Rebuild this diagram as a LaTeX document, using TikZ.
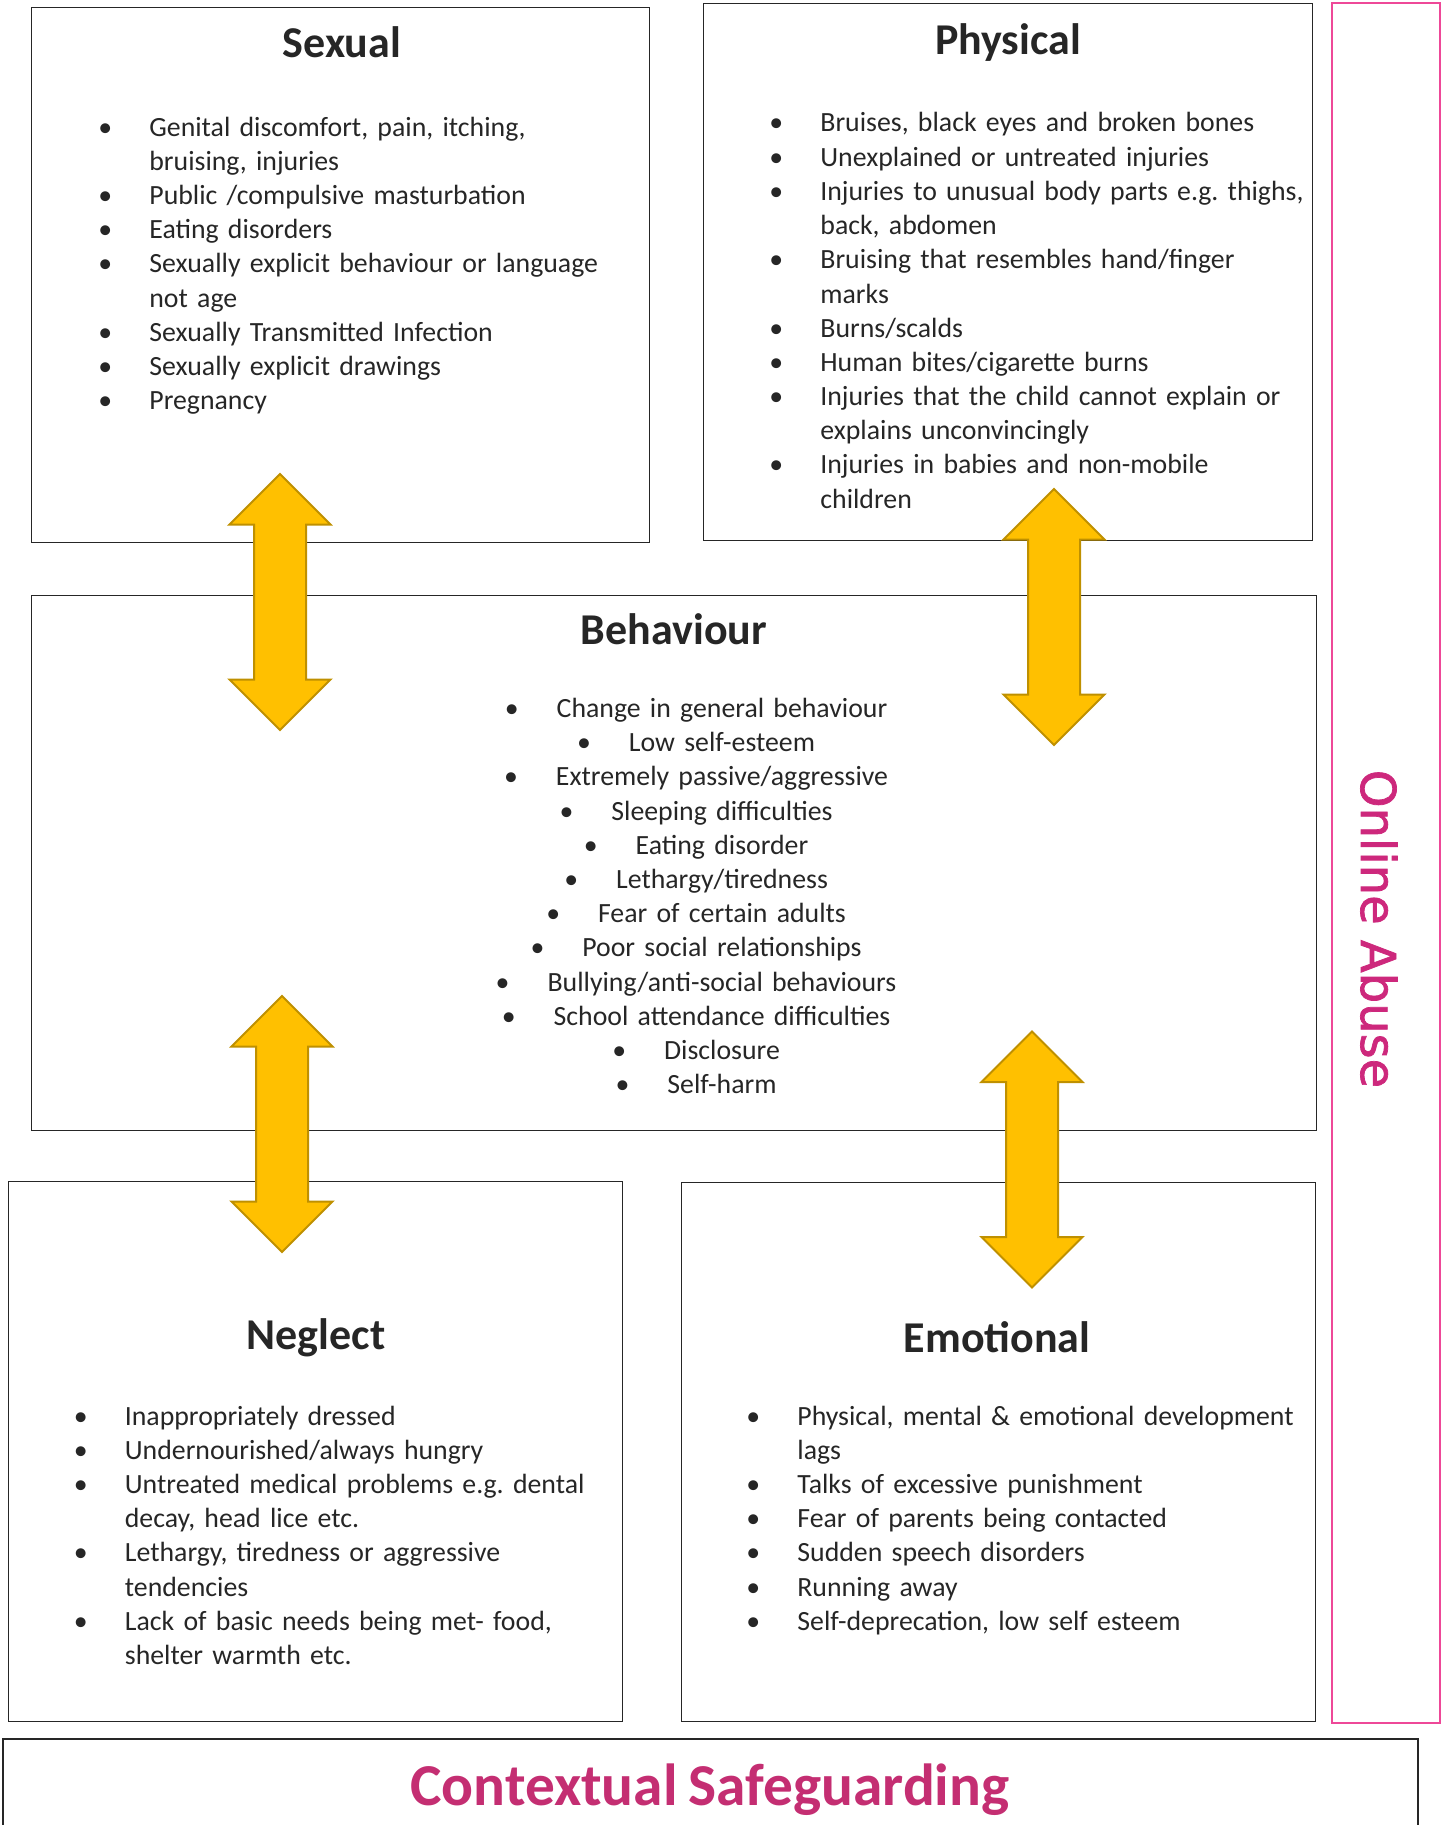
\documentclass[tikz,border=0pt]{standalone}
\usepackage{fontspec}
\setmainfont{Carlito}[WordSpace=0.8]
\newfontfamily\onlinefont{DejaVu Sans}[FakeBold=1.5]
\usepackage{xcolor}
\usepackage{tikz}
\usetikzlibrary{shapes.arrows}
\definecolor{arrowfill}{RGB}{255,192,0}
\definecolor{arrowline}{RGB}{191,144,0}
\definecolor{pinkline}{RGB}{238,72,152}
\definecolor{pinktext}{RGB}{205,40,124}
\definecolor{ctxtext}{RGB}{196,46,114}
\definecolor{boxline}{RGB}{38,38,38}
\frenchspacing
\newcommand{\blt}{\makebox[25.5pt][l]{\textbullet}}
\newcommand{\cnt}{\hspace*{25.5pt}}
\newcommand{\cblt}{\leavevmode\llap{\textbullet\hspace{19pt}}}
\tikzset{
    box/.style = {draw=boxline, line width=0.7pt, anchor=north west, inner sep=0pt},
    ttl/.style = {font=\fontsize{22}{26}\selectfont\bfseries, text=boxline, anchor=base, inner sep=0pt},
    lst/.style = {font=\fontsize{13.9}{17.1}\selectfont, text=boxline, anchor=base west, align=left, text width=290pt, inner sep=0pt},
    clst/.style = {font=\fontsize{13.9}{17.1}\selectfont, text=boxline, anchor=base, align=center, text width=340pt, inner sep=0pt},
    dblarrow/.style = {double arrow, double arrow head extend=12.25pt, minimum width=50pt, minimum height=128pt, rotate=90, fill=arrowfill, draw=arrowline, line width=1pt, inner xsep=0pt, inner ysep=12.5pt}
}
\begin{document}
\begin{tikzpicture}[x=0.5pt, y=-0.5pt]
    \useasboundingbox (0,0) rectangle (1445,1825);
    \clip (0,0) rectangle (1445,1825);

    % boxes
    \node[box, minimum width=309pt, minimum height=267.5pt] (sexual) at (31,7) {};
    \node[box, minimum width=304.5pt, minimum height=268.5pt] (physical) at (703,3) {};
    \node[box, draw=pinkline, line width=1.2pt, minimum width=54pt, minimum height=860pt] (online) at (1331,2) {};
    \node[box, minimum width=642.5pt, minimum height=267.5pt] (behaviour) at (31,595) {};
    \node[box, minimum width=307pt, minimum height=270pt] (neglect) at (8,1181) {};
    \node[box, minimum width=317pt, minimum height=269.5pt] (emotional) at (681,1182) {};
    \node[box, line width=1pt, minimum width=707.5pt, minimum height=100pt] (context) at (2,1738) {};

    % titles
    \node[ttl] (sexualT) at (342,58) {Sexual};
    \node[ttl] (physicalT) at (1008,55) {Physical};
    \node[ttl] (behaviourT) at (674,644) {Behaviour};
    \node[ttl] (neglectT) at (316,1349) {Neglect};
    \node[ttl] (emotionalT) at (997,1352) {Emotional};

    \node[font=\onlinefont\fontsize{24}{28}\selectfont, text=pinktext, rotate=-90, anchor=base, inner sep=0pt] (onlineT) at (1361,929) {Online Abuse};
    \node[font=\bfseries\fontsize{29.7}{34}\selectfont, text=ctxtext, anchor=base, inner sep=0pt] (contextT) at (710,1805) {Contextual Safeguarding};

    % lists
    \node[lst] (sexualL) at (98,136) {\blt Genital discomfort, pain, itching,\\
        \cnt bruising, injuries\\
        \blt Public /compulsive masturbation\\
        \blt Eating disorders\\
        \blt Sexually explicit behaviour or language\\
        \cnt not age\\
        \blt Sexually Transmitted Infection\\
        \blt Sexually explicit drawings\\
        \blt Pregnancy};
    \node[lst] (physicalL) at (769,132) {\blt Bruises, black eyes and broken bones\\
        \blt Unexplained or untreated injuries\\
        \blt Injuries to unusual body parts e.g. thighs,\\
        \cnt back, abdomen\\
        \blt Bruising that resembles hand/finger\\
        \cnt marks\\
        \blt Burns/scalds\\
        \blt Human bites/cigarette burns\\
        \blt Injuries that the child cannot explain or\\
        \cnt explains unconvincingly\\
        \blt Injuries in babies and non-mobile\\
        \cnt children};
    \node[clst] (behaviourL) at (722,717.5) {\cblt Change in general behaviour\\
        \cblt Low self-esteem\\
        \cblt Extremely passive/aggressive\\
        \cblt Sleeping difficulties\\
        \cblt Eating disorder\\
        \cblt Lethargy/tiredness\\
        \cblt Fear of certain adults\\
        \cblt Poor social relationships\\
        \cblt Bullying/anti-social behaviours\\
        \cblt School attendance difficulties\\
        \cblt Disclosure\\
        \cblt Self-harm};
    \node[lst] (neglectL) at (73.5,1425) {\blt Inappropriately dressed\\
        \blt Undernourished/always hungry\\
        \blt Untreated medical problems e.g. dental\\
        \cnt decay, head lice etc.\\
        \blt Lethargy, tiredness or aggressive\\
        \cnt tendencies\\
        \blt Lack of basic needs being met- food,\\
        \cnt shelter warmth etc.};
    \node[lst] (emotionalL) at (746,1425) {\blt Physical, mental \& emotional development\\
        \cnt lags\\
        \blt Talks of excessive punishment\\
        \blt Fear of parents being contacted\\
        \blt Sudden speech disorders\\
        \blt Running away\\
        \blt Self-deprecation, low self esteem};

    % arrows
    \node[dblarrow] (arrowSB) at (280,602) {};
    \node[dblarrow] (arrowPB) at (1054,617) {};
    \node[dblarrow] (arrowNB) at (282,1124) {};
    \node[dblarrow] (arrowEB) at (1032,1159.5) {};
\end{tikzpicture}
\end{document}
